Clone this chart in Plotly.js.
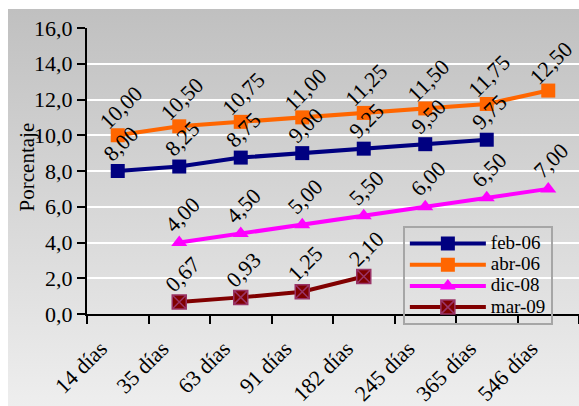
<!DOCTYPE html>
<html><head><meta charset="utf-8">
<script src="https://cdn.plot.ly/plotly-3.0.1.min.js"></script>
<style>
html,body{margin:0;padding:0;background:#fff;}
#bg{position:absolute;left:8px;top:9px;width:571px;height:397px;background:linear-gradient(to bottom,#c0c0c0 0%,#eeeeee 100%);}
#chart{position:absolute;left:0;top:0;width:579px;height:406px;}
</style></head>
<body><div id="bg"></div><div id="chart"></div>
<script>
const categories = ["14 días","35 días","63 días","91 días","182 días","245 días","365 días","546 días"];
const seriesNames = ["feb-06","abr-06","dic-08","mar-09"];
const feb06 = [8.00, 8.25, 8.75, 9.00, 9.25, 9.50, 9.75, null];
const abr06 = [10.00, 10.50, 10.75, 11.00, 11.25, 11.50, 11.75, 12.50];
const dic08 = [null, 4.00, 4.50, 5.00, 5.50, 6.00, 6.50, 7.00];
const mar09 = [null, 0.67, 0.93, 1.25, 2.10, null, null, null];
const yTicks = [0,2,4,6,8,10,12,14,16];
const yTitle = "Porcentaje";

const values = [feb06, abr06, dic08, mar09];
const colors = ["#000080","#FF6600","#FF00FF","#800000"];
const symbols = ["square","square","triangle-up","square-x"];
const lineColors = ["#000080","#FF6600","#FF00FF","#993366"];
const FONT = "Liberation Serif";

const traces = values.map((vals,i)=>({
  type:"scatter", mode:"lines+markers",
  name:'<span style="font-size:19px">'+seriesNames[i]+'</span>',
  x:categories, y:vals, connectgaps:false,
  line:{color:colors[i], width:4},
  marker:{symbol:symbols[i], size:14, color:colors[i], line:{color:lineColors[i], width: i===3?1.5:0}},
  cliponaxis:false
}));

const annotations = [];
values.forEach((vals)=>{
  vals.forEach((v,j)=>{
    if(v===null) return;
    annotations.push({
      x:categories[j], y:v, xref:"x", yref:"y",
      text:v.toFixed(2).replace(".",","), showarrow:false,
      textangle:-45, xanchor:"center", yanchor:"middle",
      xshift:3, yshift:28,
      font:{family:FONT, size:22, color:"#000"}
    });
  });
});
annotations.push({
  text:yTitle, xref:"paper", yref:"paper", x:-0.122, y:0.516,
  xanchor:"center", yanchor:"middle", textangle:-90, showarrow:false,
  font:{family:FONT, size:21, color:"#000"}
});

const layout = {
  width:579, height:406,
  margin:{l:87, r:0, t:28, b:92},
  paper_bgcolor:"rgba(0,0,0,0)", plot_bgcolor:"rgba(0,0,0,0)",
  font:{family:FONT, size:22, color:"#000"},
  separators:",.",
  showlegend:true,
  legend:{x:0.642, xanchor:"left", y:0.308, yanchor:"top",
    bgcolor:"rgba(0,0,0,0)", bordercolor:"#a6a6a6", borderwidth:2,
    font:{family:FONT, size:14}, itemwidth:76, tracegroupgap:0},
  xaxis:{type:"category", categoryarray:categories, tickson:"boundaries",
    range:[-0.5,7.5], showgrid:false, zeroline:false,
    showline:true, linecolor:"#000", linewidth:2,
    ticks:"outside", ticklen:8, tickwidth:2, tickcolor:"#000",
    tickangle:-45, ticklabelshift:-17, ticklabelstandoff:11,
    tickfont:{family:FONT, size:22}},
  yaxis:{range:[0,16], tickvals:yTicks, tickformat:".1f",
    showgrid:true, gridcolor:"#ffffff", gridwidth:2, zeroline:false,
    showline:true, linecolor:"#000", linewidth:2,
    ticks:"outside", ticklen:8, tickwidth:2, tickcolor:"#000",
    tickfont:{family:FONT, size:22}},
  annotations:annotations
};
Plotly.newPlot("chart", traces, layout, {displayModeBar:false, staticPlot:true});
</script></body></html>
